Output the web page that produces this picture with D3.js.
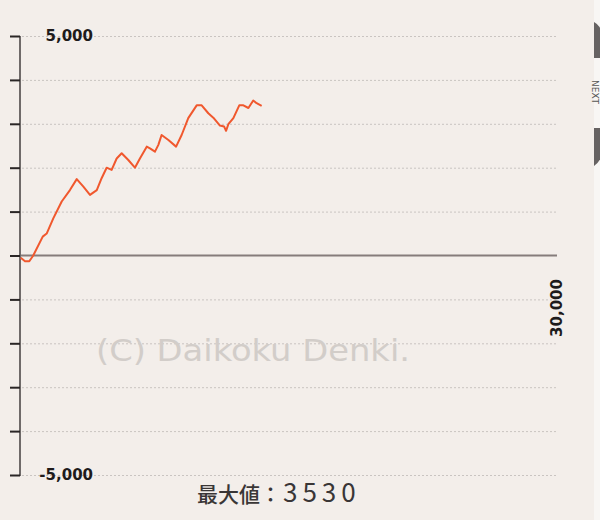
<!DOCTYPE html>
<html><head><meta charset="utf-8">
<script src="https://cdn.jsdelivr.net/npm/d3@7"></script>
<style>
html,body{margin:0;padding:0;background:#f8f6f4;}
svg{display:block;}
</style></head>
<body><svg id="c" width="600" height="520"></svg>
<script>
const games = [40,280,520,740,1270,1490,1860,2330,2790,3170,3540,3910,4290,4560,4840,5120,5400,5680,6050,6420,6700,7080,7260,7540,7730,7910,8290,8720,9030,9400,9870,10150,10520,10800,11170,11400,11510,11640,11920,12250,12480,12760,13030,13220,13500];
const values = [-50,-130,-130,0,430,500,845,1230,1490,1740,1570,1380,1490,1760,2000,1950,2210,2330,2175,2000,2210,2480,2440,2365,2520,2745,2630,2480,2745,3130,3420,3420,3240,3140,2960,2940,2840,2990,3130,3420,3420,3360,3530,3470,3410];
const yTicks = [-5000,-4000,-3000,-2000,-1000,0,1000,2000,3000,4000,5000];
const yLabels = [5000,-5000];
const xMaxLabel = 30000;
const maxText = "最大値：";
const maxValue = 3530;

const fmt = d => d3.format(",")(d).replace("\u2212","-");

const svg = d3.select("#c");
svg.append("rect").attr("x",0).attr("y",0).attr("width",594).attr("height",520).attr("fill","#f3eeea");

const x = d3.scaleLinear().domain([0,30000]).range([20,557]);
const y = d3.scaleLinear().domain([-5000,5000]).range([475,36]);

// gridlines
svg.append("g").selectAll("line").data(yTicks.filter(d=>d!==0)).join("line")
  .attr("x1",22).attr("x2",557).attr("y1",d=>y(d)+0.5).attr("y2",d=>y(d)+0.5)
  .attr("stroke","#c9c4c1").attr("stroke-width",1).attr("stroke-dasharray","2,2");

// watermark
svg.append("text").attr("x",96).attr("y",361).text("(C) Daikoku Denki.")
  .attr("font-family","DejaVu Sans, sans-serif").attr("font-size",31)
  .attr("textLength",314).attr("lengthAdjust","spacingAndGlyphs")
  .attr("fill","#d2cdc9");

// zero line
svg.append("line").attr("x1",20).attr("x2",557).attr("y1",y(0)).attr("y2",y(0))
  .attr("stroke","#857c7b").attr("stroke-width",2);

// y axis
const ax = svg.append("g").attr("transform","translate(20,0)")
  .call(d3.axisLeft(y).tickValues(yTicks).tickSize(10).tickFormat(""));
ax.select(".domain").attr("stroke","#6f6a69").attr("stroke-width",2).attr("d",`M0,${y(5000)}V${y(-5000)+1}`);
ax.selectAll(".tick line").attr("stroke","#2a2626").attr("stroke-width",2);

svg.append("g").selectAll("text").data(yLabels).join("text")
  .attr("x",93).attr("y",d=>y(d)).attr("dy","0.36em").attr("text-anchor","end")
  .attr("font-family","DejaVu Sans, sans-serif").attr("font-size",15).attr("font-weight","bold").attr("fill","#1e1b1b")
  .text(fmt);

// x label
svg.append("text").attr("transform",`translate(${x(30000)},308) rotate(-90)`)
  .attr("text-anchor","middle").attr("dy","0.36em")
  .attr("font-family","DejaVu Sans, sans-serif").attr("font-size",15).attr("font-weight","bold").attr("fill","#1e1b1b")
  .text(fmt(xMaxLabel));

// line
const data = games.map((g,i)=>[g,values[i]]);
svg.append("path").datum(data)
  .attr("d",d3.line().x(d=>x(d[0])).y(d=>y(d[1])))
  .attr("fill","none").attr("stroke","#f0582e").attr("stroke-width",2).attr("stroke-linejoin","round");

// bottom text
const bt = svg.append("text").attr("x",197).attr("y",502)
  .attr("font-family","Noto Sans CJK JP, sans-serif").attr("fill","#3a3636");
bt.append("tspan").attr("font-size",21).attr("font-weight","500").text(maxText);
bt.append("tspan").attr("font-size",26).attr("letter-spacing","5").attr("dx",2).text(maxValue);

// NEXT button (partial)
const nb = svg.append("g");
nb.append("path").attr("d","M594,22 Q606,28 606,58 L594,58 Z").attr("fill","#666262");
nb.append("path").attr("d","M594,128 L606,128 Q606,158 594,166 Z").attr("fill","#666262");
nb.append("text").attr("transform","translate(592,92) rotate(90)").attr("text-anchor","middle")
  .attr("font-family","DejaVu Sans, sans-serif").attr("font-size",9).attr("fill","#555")
  .text("NEXT");
</script></body></html>
